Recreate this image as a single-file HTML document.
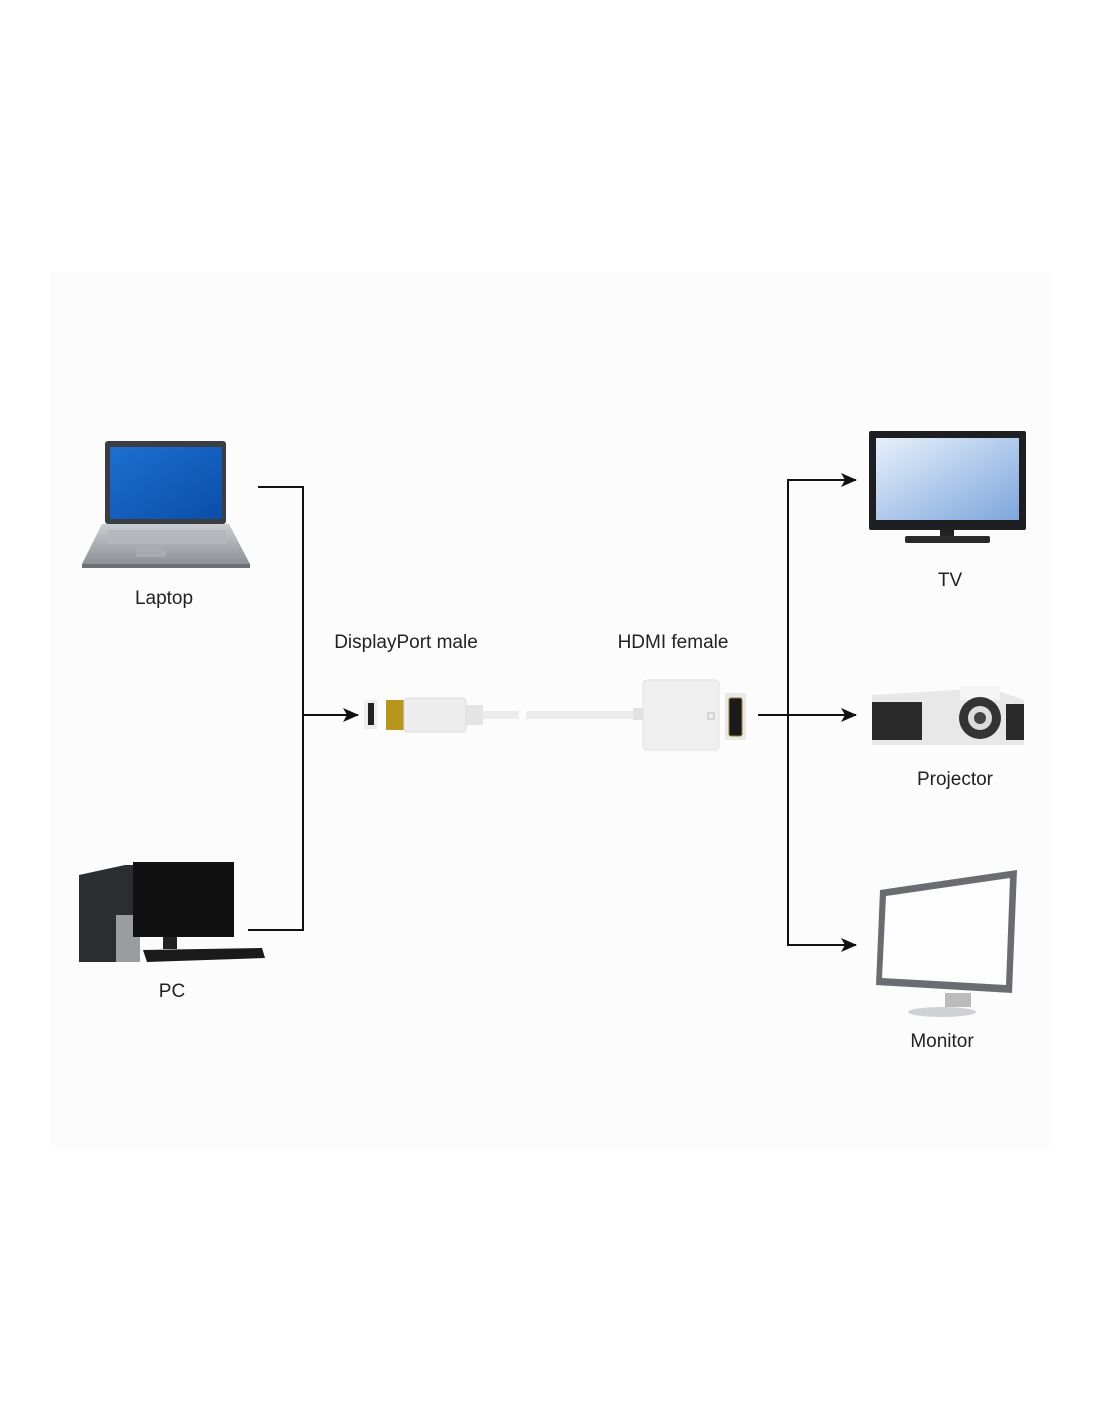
<!DOCTYPE html>
<html><head><meta charset="utf-8"><style>
html,body{margin:0;padding:0;background:#fff;}
svg{display:block;}
text{font-family:"Liberation Sans",sans-serif;font-size:19px;fill:#222;}
</style></head><body>
<svg width="1100" height="1422" viewBox="0 0 1100 1422" xmlns="http://www.w3.org/2000/svg">
<defs>
<linearGradient id="lb" x1="0" y1="0" x2="1" y2="1"><stop offset="0" stop-color="#1d6fd0"/><stop offset="1" stop-color="#0a4ea8"/></linearGradient>
<linearGradient id="tvg" x1="0" y1="0" x2="1" y2="1"><stop offset="0" stop-color="#e6f0fb"/><stop offset="1" stop-color="#7ea6dc"/></linearGradient>
<linearGradient id="sil" x1="0" y1="0" x2="0" y2="1"><stop offset="0" stop-color="#c9ccd0"/><stop offset="1" stop-color="#8e9297"/></linearGradient>
<marker id="ar" markerWidth="16" markerHeight="14" refX="15" refY="7" orient="auto" markerUnits="userSpaceOnUse"><path d="M0,0 L16,7 L0,14 L4,7 Z" fill="#111"/></marker>
</defs>
<rect x="50" y="272" width="1000" height="878" fill="#fcfcfc"/>

<!-- Laptop -->
<rect x="105" y="441" width="121" height="83" rx="3" fill="#3a3d42"/>
<rect x="110" y="447" width="112" height="72" fill="url(#lb)"/>
<path d="M102,524 L229,524 L250,564 L82,564 Z" fill="url(#sil)"/>
<rect x="108" y="530" width="118" height="14" fill="#b4b8bd"/>
<rect x="136" y="548" width="30" height="9" fill="#a8acb2"/>
<rect x="82" y="564" width="168" height="4" fill="#6d7075"/>
<text x="164" y="604" text-anchor="middle">Laptop</text>

<!-- PC -->
<path d="M79,875 L125,865 L140,865 L140,962 L79,962 Z" fill="#2b2d31"/>
<rect x="116" y="915" width="24" height="47" fill="#9a9ca0"/>
<rect x="133" y="862" width="101" height="75" fill="#111"/>
<rect x="163" y="937" width="14" height="12" fill="#222"/>
<path d="M143,950 L262,948 L265,958 L147,962 Z" fill="#1a1a1a"/>
<text x="172" y="997" text-anchor="middle">PC</text>

<!-- connectors left -->
<path d="M258,487 H303 V930 H248" fill="none" stroke="#111" stroke-width="2"/>
<line x1="303" y1="715" x2="358" y2="715" stroke="#111" stroke-width="2" marker-end="url(#ar)"/>

<text x="406" y="648" text-anchor="middle">DisplayPort male</text>
<text x="673" y="648" text-anchor="middle">HDMI female</text>

<!-- adapter -->
<rect x="364" y="700" width="13" height="29" fill="#eee"/>
<rect x="368" y="703" width="6" height="22" fill="#222"/>
<rect x="386" y="700" width="19" height="30" fill="#b8961e"/>
<rect x="404" y="698" width="62" height="34" rx="3" fill="#ededed" stroke="#ddd"/>
<rect x="465" y="705" width="18" height="20" fill="#e4e4e4"/>
<rect x="483" y="711" width="36" height="8" fill="#ececec"/>
<rect x="526" y="711" width="110" height="8" fill="#ececec"/>
<rect x="633" y="708" width="10" height="12" fill="#e2e2e2"/>
<rect x="643" y="680" width="76" height="70" rx="4" fill="#efefef" stroke="#e0e0e0"/>
<rect x="708" y="713" width="6" height="6" fill="none" stroke="#bbb"/>
<rect x="725" y="693" width="21" height="47" fill="#e8e8e8"/>
<rect x="729" y="698" width="13" height="38" rx="2" fill="#1a1a1a" stroke="#9c7b2a"/>

<!-- connectors right -->
<line x1="758" y1="715" x2="856" y2="715" stroke="#111" stroke-width="2" marker-end="url(#ar)"/>
<path d="M845,480 H788 V945 H845" fill="none" stroke="#111" stroke-width="2"/>
<line x1="788" y1="480" x2="856" y2="480" stroke="#111" stroke-width="2" marker-end="url(#ar)"/>
<line x1="788" y1="945" x2="856" y2="945" stroke="#111" stroke-width="2" marker-end="url(#ar)"/>

<!-- TV -->
<rect x="869" y="431" width="157" height="99" rx="2" fill="#1e1f22"/>
<rect x="876" y="438" width="143" height="82" fill="url(#tvg)"/>
<rect x="940" y="530" width="14" height="6" fill="#222"/>
<rect x="905" y="536" width="85" height="7" rx="2" fill="#2a2a2a"/>
<text x="950" y="586" text-anchor="middle">TV</text>

<!-- Projector -->
<path d="M872,695 L990,688 L1024,700 L1024,745 L872,745 Z" fill="#e8e8e8"/>
<rect x="872" y="702" width="50" height="38" fill="#2a2a2a"/>
<rect x="960" y="686" width="40" height="14" fill="#f5f5f5"/>
<circle cx="980" cy="718" r="21" fill="#333"/>
<circle cx="980" cy="718" r="12" fill="#ddd"/>
<circle cx="980" cy="718" r="6" fill="#444"/>
<rect x="1006" y="704" width="18" height="36" fill="#2a2a2a"/>
<text x="955" y="785" text-anchor="middle">Projector</text>

<!-- Monitor -->
<path d="M880,890 L1017,870 L1012,993 L876,985 Z" fill="#6a6c70"/>
<path d="M886,896 L1010,878 L1006,985 L882,978 Z" fill="#fdfdfd"/>
<rect x="945" y="993" width="26" height="14" fill="#bbb"/>
<ellipse cx="942" cy="1012" rx="34" ry="5" fill="#cfd1d4"/>
<text x="942" y="1047" text-anchor="middle">Monitor</text>
</svg>
</body></html>
